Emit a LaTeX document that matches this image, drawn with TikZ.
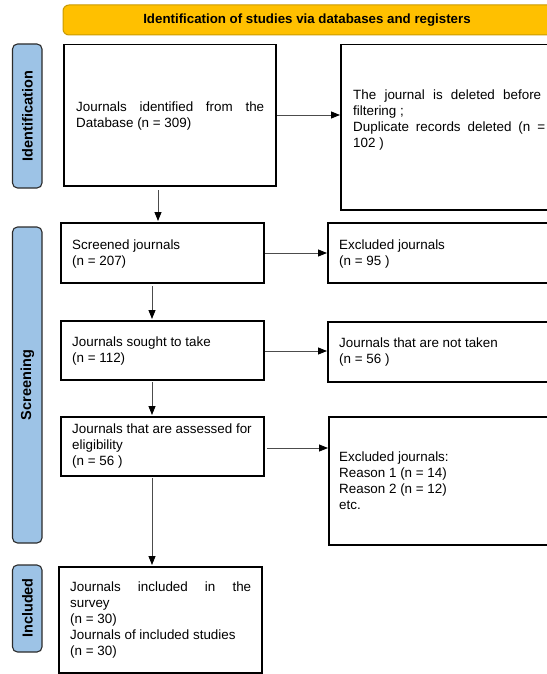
\documentclass[tikz,border=0pt]{standalone}
\usepackage{fontspec}
\setmainfont{Liberation Sans}
\usetikzlibrary{arrows.meta}
\definecolor{bannery}{HTML}{FFC000}
\definecolor{bannerb}{HTML}{C99A00}
\definecolor{barblue}{HTML}{9DC3E6}
\definecolor{barline}{HTML}{2B2B2B}
\begin{document}
\begin{tikzpicture}[x=1pt,y=-1pt,
  boxst/.style={draw=black,line width=1.1pt,fill=white},
  txt/.style={inner sep=0pt,anchor=west,align=left,font=\fontsize{13.4}{16}\selectfont},
  barst/.style={draw=barline,line width=1.1pt,fill=barblue,rounded corners=5pt},
  bartxt/.style={rotate=90,font=\fontsize{14.5}{16}\selectfont\bfseries,inner sep=0pt},
  arr/.style={draw=black!70,line width=0.8pt,-{Triangle[length=9pt,width=7pt,color=black]}}]
\useasboundingbox (0,0) rectangle (546,674);
% banner
\draw[draw=bannerb,line width=1pt,fill=bannery,rounded corners=6pt] (63,5) rectangle (570,35);
\node[font=\fontsize{13.3}{16}\selectfont\bfseries,inner sep=0pt] (banner) at (307,20) {Identification of studies via databases and registers};
% side bars
\draw[barst] (12.5,44) rectangle (42,188);
\node[bartxt] (lid) at (27.5,116) {Identification};
\draw[barst] (12.5,227) rectangle (42,543);
\node[bartxt] (lsc) at (27.5,385) {Screening};
\draw[barst] (12.5,565) rectangle (42,652);
\node[bartxt] (lin) at (27.5,608) {Included};
% boxes
\draw[boxst] (64,44.5) rectangle (276,186);
\node[txt] (t1) at (76,116) {\hbox to 188pt{Journals\hfil identified\hfil from\hfil the}\\Database (n = 309)};
\draw[boxst] (341,44.5) rectangle (570,210);
\node[txt] (r1) at (353,120) {\hbox to 188pt{The\hfil journal\hfil is\hfil deleted\hfil before}\\filtering ;\\\hbox to 192pt{Duplicate\hfil records\hfil deleted\hfil (n\hfil =}\\102 )};

\draw[boxst] (61,223) rectangle (264,283);
\node[txt] (t2) at (72,254) {Screened journals\\(n = 207)};
\draw[boxst] (328,223) rectangle (570,283);
\node[txt] (r2) at (339,254) {Excluded journals\\(n = 95 )};

\draw[boxst] (61,321) rectangle (264,380);
\node[txt] (t3) at (72,351) {Journals sought to take\\(n = 112)};
\draw[boxst] (328,322) rectangle (570,382);
\node[txt] (r3) at (339,352) {Journals that are not taken\\(n = 56 )};

\draw[boxst] (61,417) rectangle (264,476);
\node[txt] (t4) at (72,446) {Journals that are assessed for\\eligibility\\(n = 56 )};
\draw[boxst] (329,417) rectangle (570,545);
\node[txt] (r4) at (339,481) {Excluded journals:\\Reason 1 (n = 14)\\Reason 2 (n = 12)\\etc.};

\draw[boxst] (59,567) rectangle (262,673);
\node[txt] (t5) at (70,620) {\hbox to 181pt{Journals\hfil included\hfil in\hfil the}\\survey\\(n = 30)\\Journals of included studies\\(n = 30)};
% connectors
\coordinate (a1s) at (158,190); \coordinate (a1e) at (158,221);
\draw[arr] (a1s) -- (a1e);
\coordinate (a2s) at (152,286); \coordinate (a2e) at (152,319);
\draw[arr] (a2s) -- (a2e);
\coordinate (a3s) at (152,382); \coordinate (a3e) at (152,415);
\draw[arr] (a3s) -- (a3e);
\coordinate (a4s) at (152,478); \coordinate (a4e) at (152,565);
\draw[arr] (a4s) -- (a4e);
\coordinate (h1s) at (277,115); \coordinate (h1e) at (340,115);
\draw[arr] (h1s) -- (h1e);
\coordinate (h2s) at (265,253); \coordinate (h2e) at (327,253);
\draw[arr] (h2s) -- (h2e);
\coordinate (h3s) at (265,351); \coordinate (h3e) at (327,351);
\draw[arr] (h3s) -- (h3e);
\coordinate (h4s) at (267,448); \coordinate (h4e) at (328,448);
\draw[arr] (h4s) -- (h4e);
\end{tikzpicture}
\end{document}
